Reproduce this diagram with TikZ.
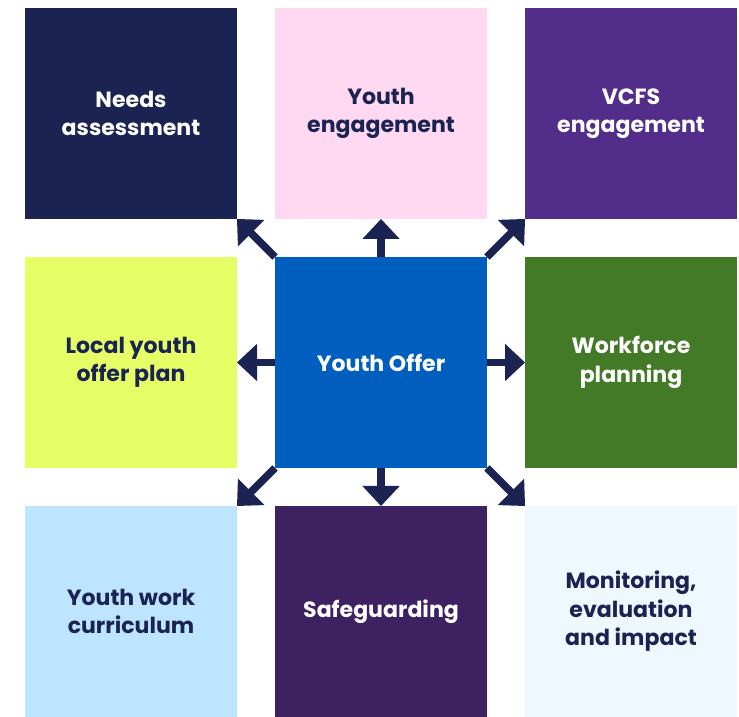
\documentclass[tikz,border=0pt]{standalone}
\usepackage{fontspec}
\setmainfont{Poppins}
\usetikzlibrary{arrows.meta,positioning,calc}
\definecolor{navy}{HTML}{1A2352}
\definecolor{pinkish}{HTML}{FFD9F2}
\definecolor{violet}{HTML}{522D8A}
\definecolor{lime}{HTML}{E6FF66}
\definecolor{offerblue}{HTML}{005EBF}
\definecolor{leaf}{HTML}{437A28}
\definecolor{sky}{HTML}{BDE5FF}
\definecolor{plum}{HTML}{3D2161}
\definecolor{ice}{HTML}{F0F8FF}

\begin{document}
\begin{tikzpicture}[
  tile/.style={rectangle, minimum width=211pt, minimum height=210pt,
    inner sep=0pt, align=center, font=\fontsize{22}{28.5}\selectfont\bfseries},
  dk/.style={tile, text=white},
  lt/.style={tile, text=navy},
  arr/.style={-{Triangle[width=36pt,length=20pt]}, line width=7.5pt, draw=navy},
]
% centre
\node[dk, fill=offerblue] (off) {Youth Offer};
% top row
\node[lt, fill=pinkish, above=38pt of off] (yeng) {Youth\\engagement};
\node[dk, fill=navy, above left=38pt and 38pt of off] (needs) {Needs\\assessment};
\node[dk, fill=violet, above right=38pt and 38pt of off] (vcfs) {VCFS\\engagement};
% middle row
\node[lt, fill=lime, left=38pt of off] (plan) {Local youth\\offer plan};
\node[dk, fill=leaf, right=38pt of off] (work) {Workforce\\planning};
% bottom row
\node[dk, fill=plum, below=38pt of off] (safe) {Safeguarding};
\node[lt, fill=sky, below left=38pt and 38pt of off] (curr) {Youth work\\curriculum};
\node[lt, fill=ice, below right=38pt and 38pt of off] (mon) {Monitoring,\\evaluation\\and impact};
% arrows out of the offer
\draw[arr] (off.north) -- (yeng.south);
\draw[arr] (off.south) -- (safe.north);
\draw[arr] (off.west) -- (plan.east);
\draw[arr] (off.east) -- (work.west);
\draw[arr] (off.north west) -- (needs.south east);
\draw[arr] (off.north east) -- (vcfs.south west);
\draw[arr] (off.south west) -- (curr.north east);
\draw[arr] (off.south east) -- (mon.north west);
\useasboundingbox ($(needs.north west)+(-25pt,8pt)$) rectangle ($(mon.south east)+(2pt,0pt)$);
\end{tikzpicture}
\end{document}
